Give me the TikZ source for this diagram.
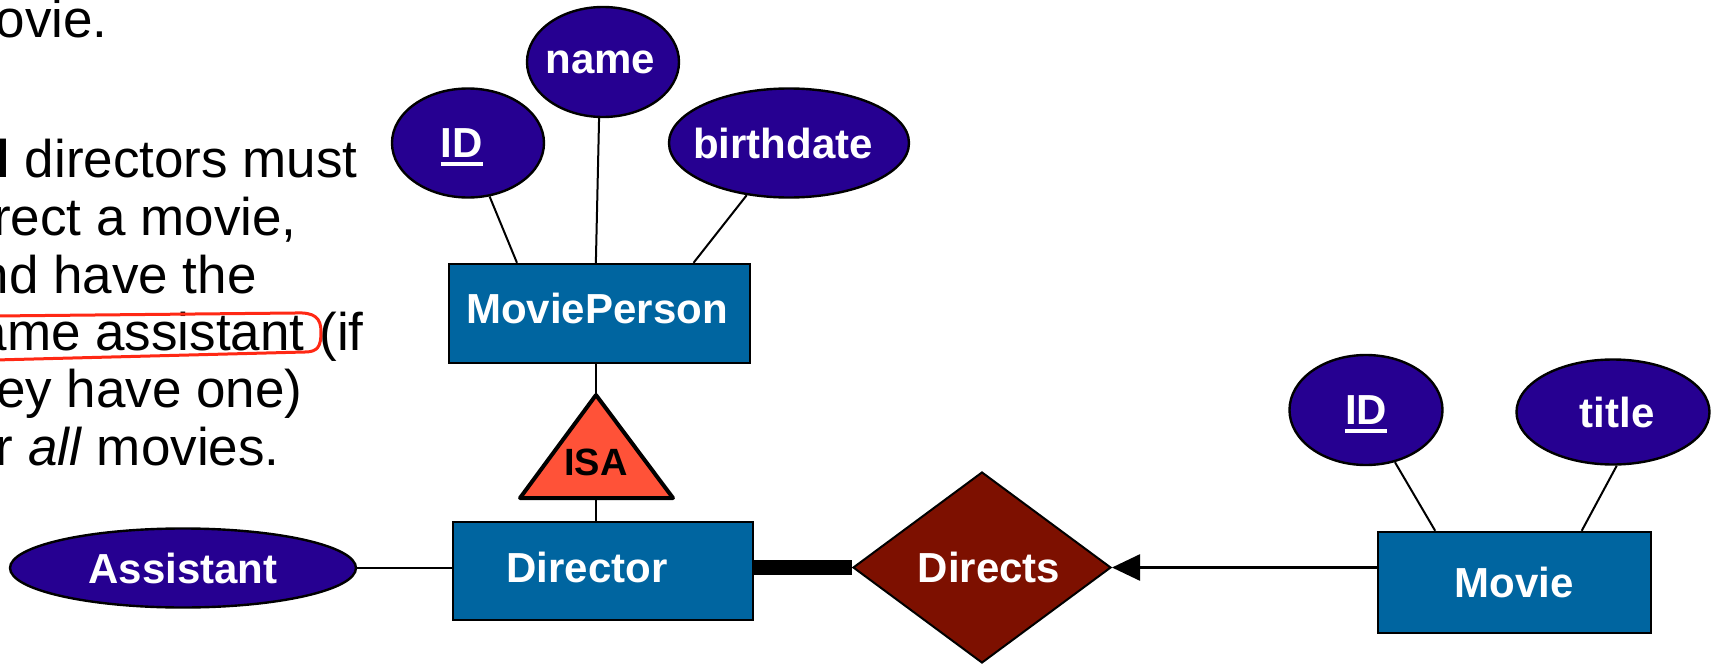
\documentclass[tikz,border=0pt]{standalone}
\usepackage{fontspec}
\setmainfont{Liberation Sans}
\usetikzlibrary{shapes.geometric,arrows.meta,calc}

\definecolor{attrfill}{RGB}{38,0,145}
\definecolor{entfill}{RGB}{0,101,160}
\definecolor{isafill}{RGB}{255,82,56}
\definecolor{relfill}{RGB}{125,16,0}
\definecolor{penred}{RGB}{255,40,20}

% key attribute: text with a thick underline that does not change the box
\newcommand\keyattr[1]{\setbox0\hbox{#1}\rlap{\smash{\rule[-4.5pt]{\wd0}{2pt}}}\box0}
% label nudged sideways (#1) and upwards (#2) inside its shape
\newcommand\offtext[3]{\makebox[0pt]{\hspace*{#1}\raisebox{#2}[\height][\depth]{#3}}}

\tikzset{
  labelfont/.style={font=\fontsize{21}{25}\selectfont\bfseries},
  attr/.style={ellipse, draw=black, line width=1.2pt, fill=attrfill,
    text=white, labelfont, inner sep=0pt},
  entity/.style={rectangle, draw=black, line width=1.2pt, fill=entfill,
    text=white, labelfont, inner sep=0pt},
  rel/.style={diamond, draw=black, line width=1pt, fill=relfill,
    text=white, labelfont, inner sep=0pt},
  link/.style={line width=1pt},
  thinlink/.style={line width=0.6pt},
  slidetext/.style={anchor=base east, inner sep=0pt,
    font=\fontsize{26.5}{32}\selectfont},
}

\begin{document}
\begin{tikzpicture}[x=0.5pt, y=-0.5pt]
\clip (0,0) rectangle (1721,664);

% bullet text on the left
\node[slidetext] (t0) at (108,38) {movie.};
\node[slidetext] (t1) at (358,177) {\textbf{All} directors must};
\node[slidetext] (t2) at (297,235) {direct a movie,};
\node[slidetext] (t3) at (257,293) {and have the};
\node[slidetext] (t4) at (364,350) {same assistant (if};
\node[slidetext] (t5) at (303,407) {they have one)};
\node[slidetext] (t6) at (280,465) {for \textit{all} movies.};

% hand-drawn red loop around "same assistant"
\draw[penred, line width=1.5pt, line cap=round, line join=round]
  (-5,316) -- (295,313) .. controls (315,312) and (321,318) .. (321,332)
  .. controls (321,346) and (318,352) .. (305,352) -- (-5,360);

% MoviePerson and its attributes
\node[attr, minimum width=76pt, minimum height=54.5pt] (pid) at (468,143)
  {\offtext{-6.5pt}{0pt}{\keyattr{ID}}};
\node[attr, minimum width=76pt, minimum height=55pt] (pname) at (603,62)
  {\offtext{-2.5pt}{0pt}{name}};
\node[attr, minimum width=120pt, minimum height=54.5pt] (bdate) at (789,143)
  {\offtext{-6pt}{0pt}{birthdate}};
\node[entity, minimum width=150.5pt, minimum height=49.5pt] (mp) at (599.5,313.5)
  {\offtext{-2.5pt}{2.75pt}{MoviePerson}};

\draw[link] (pid.-68.7) -- ($(mp.north west)!0.228!(mp.north east)$);
\draw[link] (pname.-94) -- ($(mp.north west)!0.488!(mp.north east)$);
\draw[link] (bdate.-129) -- ($(mp.north west)!0.81!(mp.north east)$);

% ISA triangle
\coordinate (isatop) at (596,395);
\coordinate (isabot) at (596,498);
\draw[fill=isafill, draw=black, line width=2pt, line join=round]
  (isatop) -- (673,498) -- (520,498) -- cycle;
\node[inner sep=0pt, font=\fontsize{19}{23}\selectfont\bfseries] (isa) at (596,462) {ISA};

% Director, Assistant and Directs
\node[entity, minimum width=150pt, minimum height=49pt] (dir) at (603,571)
  {\offtext{-16pt}{2pt}{Director}};
\node[attr, minimum width=173pt, minimum height=39.5pt] (asst) at (183,568)
  {\offtext{0pt}{0pt}{Assistant}};
\node[rel, minimum width=129pt, minimum height=95.5pt] (dirs) at (982,567.5)
  {\offtext{7pt}{0pt}{Directs}};

\draw[thinlink] (isatop |- mp.south) -- (isatop);
\draw[thinlink] (isabot) -- (isabot |- dir.north);
\draw[thinlink] (asst.east) -- (asst.east -| dir.west);
\draw[line width=7.5pt] (dirs.west -| dir.east) -- (dirs.west);

% Movie and its attributes
\node[entity, minimum width=136.5pt, minimum height=50.5pt] (movie) at (1514.5,582.5)
  {\offtext{0pt}{0pt}{Movie}};
\node[attr, minimum width=76.5pt, minimum height=55pt] (mid) at (1366,410)
  {\offtext{0pt}{0pt}{\keyattr{ID}}};
\node[attr, minimum width=96.5pt, minimum height=52.5pt] (mtitle) at (1613,412)
  {\offtext{4pt}{0pt}{title}};

\draw[link] (mid.-61.6) -- ($(movie.north west)!0.212!(movie.north east)$);
\draw[link] (mtitle.-86) -- ($(movie.north west)!0.744!(movie.north east)$);
\draw[line width=1.3pt, -{Triangle[length=14pt,width=13pt]}]
  (dirs.east -| movie.west) -- (dirs.east);
\end{tikzpicture}
\end{document}
